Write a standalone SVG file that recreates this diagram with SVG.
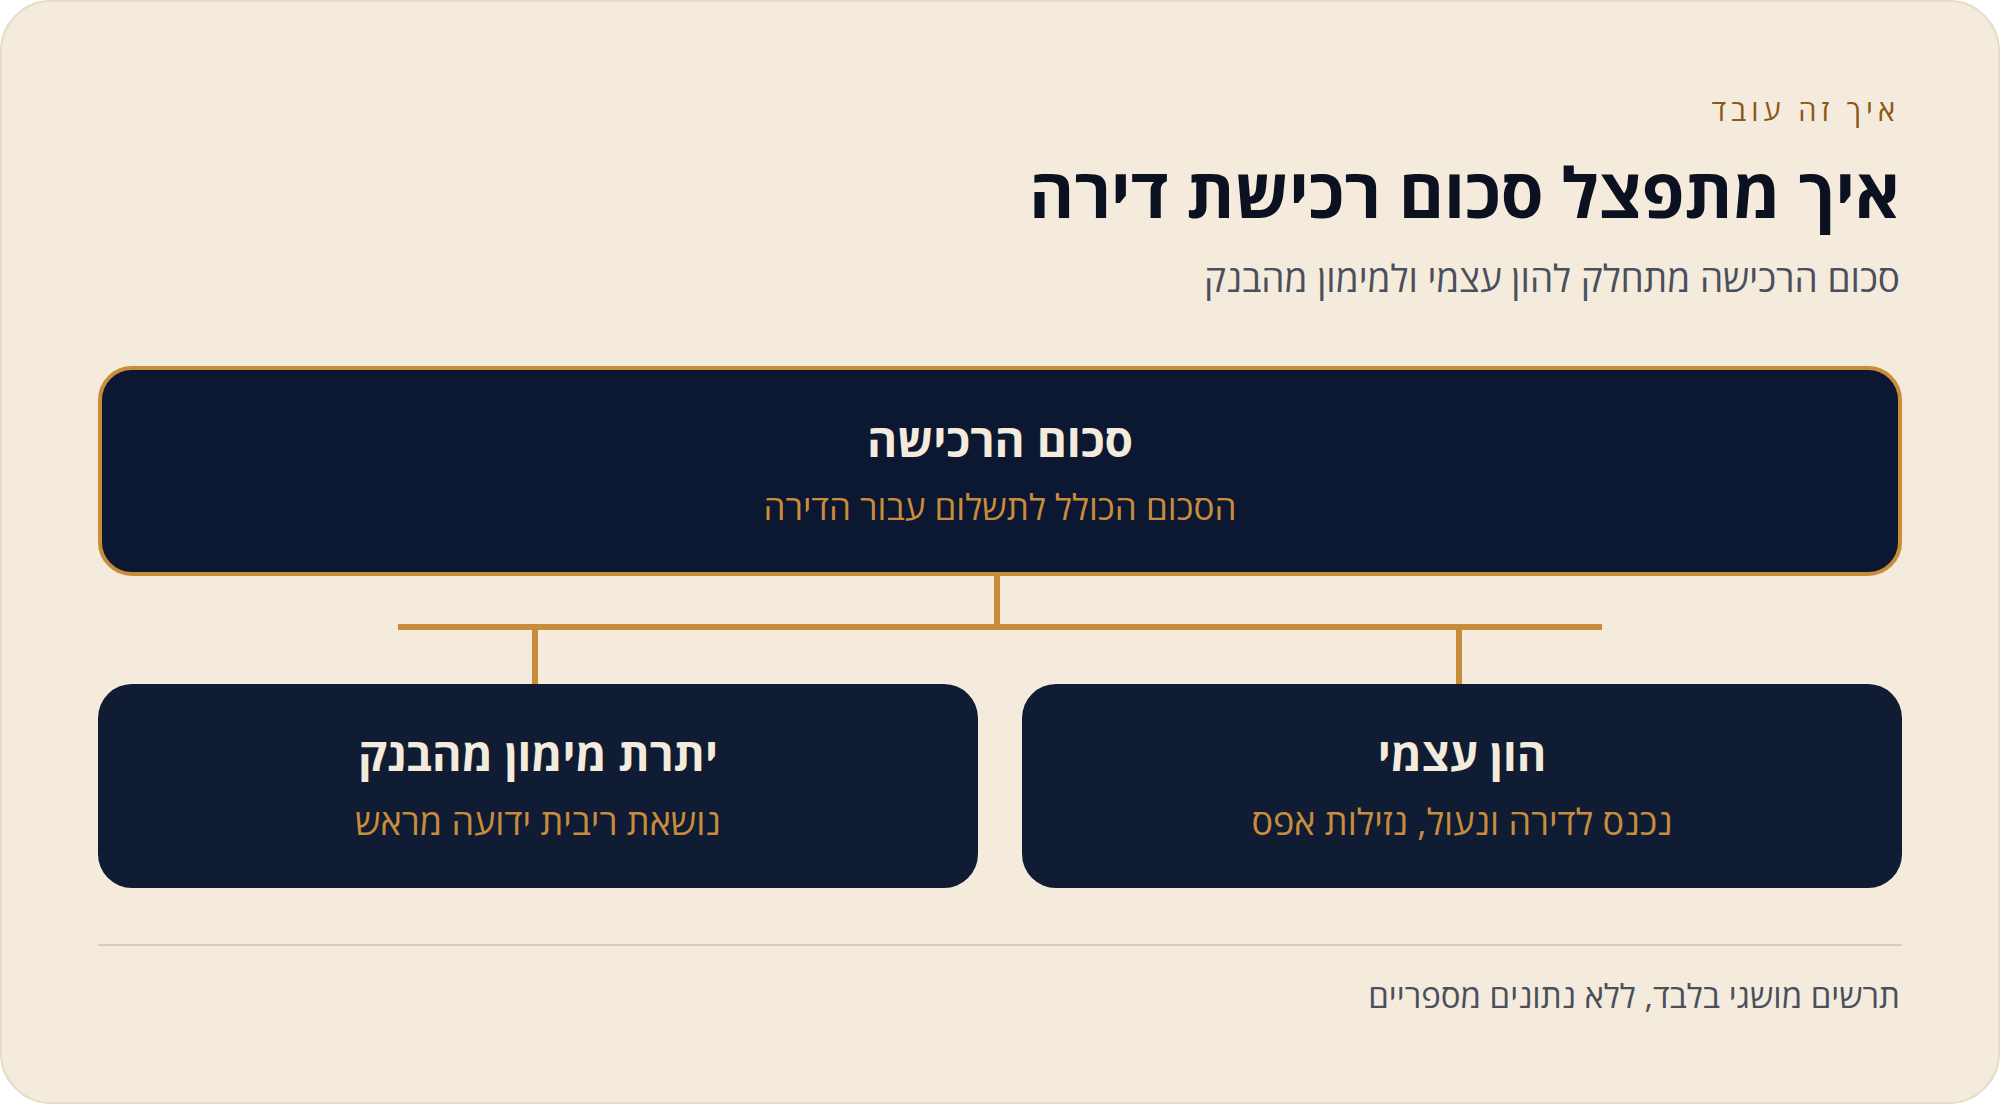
<svg xmlns="http://www.w3.org/2000/svg" width="2000" height="1104" viewBox="0 0 2000 1104">
<style>
text{font-family:"Open Sans","Noto Sans","DejaVu Sans",sans-serif;}
.eyebrow{font-size:29px;fill:#8a5a17;letter-spacing:5px;text-anchor:end;}
.title{font-size:69px;font-weight:700;fill:#0b1120;text-anchor:end;}
.subtitle{font-size:37px;fill:#4a4f5c;text-anchor:end;}
.ntitle{font-size:46px;font-weight:700;fill:#f4ebdc;text-anchor:middle;}
.ntitle2{font-size:45px;font-weight:700;fill:#f4ebdc;text-anchor:middle;}
.nsub{font-size:35px;fill:#c98c3a;text-anchor:middle;}
.nsub2{font-size:36px;fill:#c98c3a;text-anchor:middle;}
.footer{font-size:33px;fill:#4a4f5c;text-anchor:end;}
.conn{fill:#c98c3a;}
</style>
<rect x="1" y="1" width="1998" height="1102" rx="50" fill="#f4ebdc" stroke="#e6dcc6" stroke-width="2"/>
<text class="eyebrow" x="1900" y="121">איך זה עובד</text>
<text class="title" x="1900" y="218">איך מתפצל סכום רכישת דירה</text>
<text class="subtitle" x="1900" y="292">סכום הרכישה מתחלק להון עצמי ולמימון מהבנק</text>
<g id="connectors">
<rect class="conn" x="994" y="576" width="6" height="50"/>
<rect class="conn" x="398" y="624" width="1204" height="6"/>
<rect class="conn" x="532" y="630" width="6" height="54"/>
<rect class="conn" x="1456" y="630" width="6" height="54"/>
</g>
<g id="node-total">
<rect x="100" y="368" width="1800" height="206" rx="32" fill="#0c1731" stroke="#c98c3a" stroke-width="4"/>
<text class="ntitle" x="1000" y="457">סכום הרכישה</text>
<text class="nsub" x="1000" y="520">הסכום הכולל לתשלום עבור הדירה</text>
</g>
<g id="node-loan">
<rect x="98" y="684" width="880" height="204" rx="34" fill="#101c33"/>
<text class="ntitle2" x="538" y="771">יתרת מימון מהבנק</text>
<text class="nsub2" x="538" y="835">נושאת ריבית ידועה מראש</text>
</g>
<g id="node-equity">
<rect x="1022" y="684" width="880" height="204" rx="34" fill="#101c33"/>
<text class="ntitle2" x="1462" y="771">הון עצמי</text>
<text class="nsub2" x="1462" y="835">נכנס לדירה ונעול, נזילות אפס</text>
</g>
<rect x="98" y="944" width="1804" height="2" fill="#d5cdbd"/>
<text class="footer" x="1900" y="1008">תרשים מושגי בלבד, ללא נתונים מספריים</text>
</svg>
